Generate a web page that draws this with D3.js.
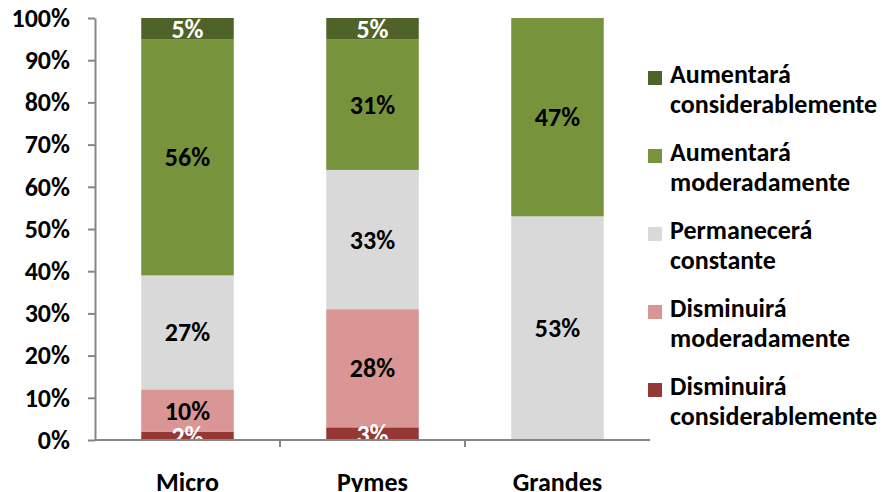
<!DOCTYPE html>
<html>
<head>
<meta charset="utf-8">
<script src="https://cdn.jsdelivr.net/npm/d3@7"></script>
<style>
html,body{margin:0;padding:0;background:#fff;}
svg text{font-family:Carlito,Calibri,Lato,sans-serif;font-weight:bold;}
</style>
</head>
<body>
<svg id="chart" width="882" height="492"></svg>
<script>
const categories = ["Micro", "Pymes", "Grandes"];
const seriesNames = ["Disminuirá considerablemente", "Disminuirá moderadamente", "Permanecerá constante", "Aumentará moderadamente", "Aumentará considerablemente"];
const legendLines = [["Disminuirá","considerablemente"],["Disminuirá","moderadamente"],["Permanecerá","constante"],["Aumentará","moderadamente"],["Aumentará","considerablemente"]];
const disminuiraConsiderablemente = [2, 3, 0];
const disminuiraModeradamente = [10, 28, 0];
const permaneceraConstante = [27, 33, 53];
const aumentaraModeradamente = [56, 31, 47];
const aumentaraConsiderablemente = [5, 5, 0];
const yTicks = [0, 10, 20, 30, 40, 50, 60, 70, 80, 90, 100];
const colors = ["#953735", "#D99694", "#D9D9D9", "#77933C", "#4F6228"];
const labelColors = ["#fff", "#000", "#000", "#000", "#fff"];

(function () {
const allSeries = [disminuiraConsiderablemente, disminuiraModeradamente, permaneceraConstante, aumentaraModeradamente, aumentaraConsiderablemente];
const rows = categories.map((c, i) => {
  const r = {cat: c};
  seriesNames.forEach((s, j) => r[s] = allSeries[j][i]);
  return r;
});
const stacked = d3.stack().keys(seriesNames)(rows);

const svg = d3.select("#chart");
const mLeft = 95, mRight = 650, mTop = 18, mBottom = 440;
const x = d3.scaleBand().domain(categories).range([mLeft, mRight]).paddingInner(0.5).paddingOuter(0.25);
const y = d3.scaleLinear().domain([0, 100]).range([mBottom, mTop]);
const fs = 26;

const g = svg.append("g");
stacked.forEach((layer, j) => {
  g.selectAll(null).data(layer).enter().append("rect")
    .attr("x", d => x(d.data.cat))
    .attr("width", x.bandwidth())
    .attr("y", d => y(d[1]))
    .attr("height", d => y(d[0]) - y(d[1]))
    .attr("fill", colors[j]);
});
stacked.forEach((layer, j) => {
  g.selectAll(null).data(layer.filter(d => d[1] - d[0] > 0)).enter().append("text")
    .attr("x", d => x(d.data.cat) + x.bandwidth() / 2)
    .attr("y", d => y((d[0] + d[1]) / 2))
    .attr("dy", "0.35em")
    .attr("text-anchor", "middle")
    .attr("font-size", fs)
    .attr("fill", labelColors[j])
    .text(d => (d[1] - d[0]) + "%");
});

const yAxis = d3.axisLeft(y).tickValues(yTicks).tickFormat(d => d + "%").tickSizeInner(7).tickSizeOuter(0).tickPadding(18);
const ya = svg.append("g").attr("transform", `translate(${mLeft},0)`).call(yAxis);
ya.attr("font-family", null).attr("font-size", null);
ya.select(".domain").attr("stroke", "#868686").attr("stroke-width", 2);
ya.selectAll(".tick line").attr("stroke", "#868686").attr("stroke-width", 2);
ya.selectAll(".tick text").attr("font-size", fs).attr("fill", "#000");

const xa = svg.append("g").attr("transform", `translate(0,${mBottom})`);
xa.append("line").attr("x1", mLeft).attr("x2", mRight).attr("stroke", "#868686").attr("stroke-width", 2);
const step = x.step();
const bounds = d3.range(1, categories.length).map(i => x(categories[i]) - step * 0.25);
xa.selectAll(null).data(bounds).enter().append("line")
  .attr("x1", d => d).attr("x2", d => d).attr("y1", 0).attr("y2", 7)
  .attr("stroke", "#868686").attr("stroke-width", 2);
xa.selectAll(null).data(categories).enter().append("text")
  .attr("x", d => x(d) + x.bandwidth() / 2)
  .attr("y", 51)
  .attr("text-anchor", "middle")
  .attr("font-size", fs)
  .attr("fill", "#000")
  .text(d => d);

const legend = svg.append("g");
const order = d3.range(seriesNames.length).reverse();
order.forEach((j, k) => {
  const by = 83 + k * 78;
  legend.append("rect").attr("x", 648).attr("y", by - 12).attr("width", 14).attr("height", 14).attr("fill", colors[j]);
  legend.append("text").attr("x", 670).attr("y", by).attr("font-size", fs).attr("fill", "#000").text(legendLines[j][0]);
  legend.append("text").attr("x", 670).attr("y", by + 30).attr("font-size", fs).attr("fill", "#000").text(legendLines[j][1]);
});
})();
</script>
</body>
</html>
